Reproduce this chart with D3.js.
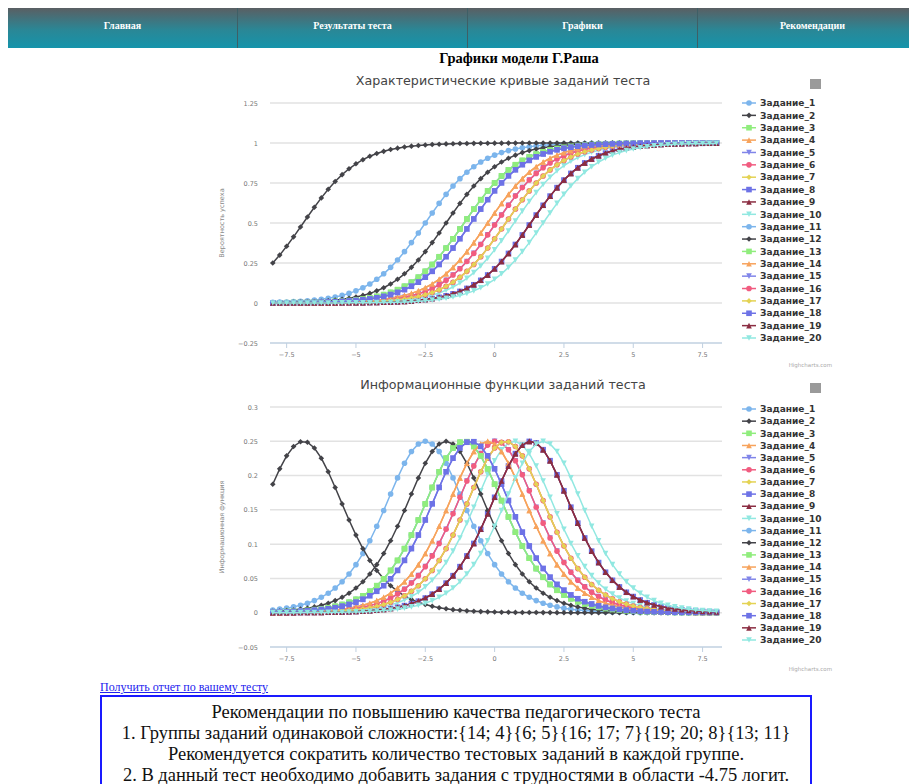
<!DOCTYPE html>
<html lang="ru">
<head>
<meta charset="UTF-8">
<title>Графики модели Г.Раша</title>
<script src="https://d3js.org/d3.v7.min.js"></script>
<style>
  body { margin: 0; background: #fff; width: 909px; height: 784px; overflow: hidden; position: relative; }
  #nav {
    position: absolute; left: 8px; top: 8px; width: 920px; height: 40px;
    background: linear-gradient(#5a5f63, #2a8796 55%, #1594ab);
    display: flex;
  }
  #nav div {
    width: 230px; border-right: 1px solid #3f5f66; box-sizing: border-box;
    color: #fff; font: bold 10px "Liberation Serif", serif; text-align: center; line-height: 36px;
  }
  #heading { position: absolute; left: 0; width: 1038px; top: 50px; text-align: center;
    font: bold 14.5px "Liberation Serif", serif; color: #000; }
  #charts { position: absolute; left: 0; top: 0; }
  #report { position: absolute; left: 100px; top: 680px; font: 12px "Liberation Serif", serif;
    color: #2222ee; text-decoration: underline; }
  #box { position: absolute; left: 100px; top: 695px; width: 708px; height: 100px;
    border: 2px solid #1a1aff; text-align: center;
    font: 18.5px "Liberation Serif", serif; line-height: 21px; color: #111; padding-top: 5px; }
</style>
</head>
<body>
<div id="nav">
  <div>Главная</div><div>Результаты теста</div><div>Графики</div><div>Рекомендации</div>
</div>
<div id="heading">Графики модели Г.Раша</div>
<svg id="charts" width="909" height="784"></svg>
<div id="report">Получить отчет по вашему тесту</div>
<div id="box">
  Рекомендации по повышению качества педагогического теста<br>
  1. Группы заданий одинаковой сложности:{14; 4}{6; 5}{16; 17; 7}{19; 20; 8}{13; 11}<br>
  Рекомендуется сократить количество тестовых заданий в каждой группе.<br>
  2. В данный тест необходимо добавить задания с трудностями в области -4.75 логит.
</div>
<script>
// item names and difficulties (logits)
const itemNames = d3.range(1, 21).map(i => "Задание_" + i);
const itemDifficulty = [-2.5, -6.9, -1.1, -0.25, 0.05, 0.05, 0.4, 1.3, 1.3, 0.7,
                        -1.1, -1.75, -1.1, -0.25, -0.85, 0.4, 0.4, -0.85, 1.3, 1.75];
// ability grid the curves were evaluated at
const thetaGrid = d3.range(-8, 8.001, 0.25);

const xTicks = [-7.5, -5, -2.5, 0, 2.5, 5, 7.5];
const iccTicks = [-0.25, 0, 0.25, 0.5, 0.75, 1, 1.25];
const infoTicks = [-0.05, 0, 0.05, 0.1, 0.15, 0.2, 0.25, 0.3];

const seriesColors = ["#7cb5ec", "#434348", "#90ed7d", "#f7a35c", "#8085e9",
                      "#f15c80", "#e4d354", "#6d72e6", "#8b2d42", "#91e8e1"];
const seriesSymbols = ["circle", "diamond", "square", "triangle", "triangle-down"];

// Rasch model
const prob = (t, b) => 1 / (1 + Math.exp(-(t - b)));
const info = (t, b) => { const p = prob(t, b); return p * (1 - p); };

function symbolPath(type, r) {
  switch (type) {
    case "circle": return d3.symbol(d3.symbolCircle, Math.PI * r * r)();
    case "diamond": return `M0,${-r}L${r},0L0,${r}L${-r},0Z`;
    case "square": return `M${-r},${-r}h${2 * r}v${2 * r}h${-2 * r}Z`;
    case "triangle": return `M0,${-r}L${r},${r}L${-r},${r}Z`;
    default: return `M${-r},${-r}L${r},${-r}L0,${r}Z`;
  }
}

const svg = d3.select("#charts");

function drawChart(cfg) {
  const g = svg.append("g");
  const x = d3.scaleLinear().domain([-8.1, 8.2]).range([270, 722]);
  const y = d3.scaleLinear().domain(cfg.yDomain).range([cfg.bottom, cfg.top]);

  g.append("text").attr("x", 503).attr("y", cfg.top - 18).attr("text-anchor", "middle")
    .attr("font-family", "DejaVu Sans, sans-serif").attr("font-size", 12.7).attr("fill", "#444")
    .text(cfg.title);

  // export button
  g.append("rect").attr("x", 810).attr("y", cfg.top - 24).attr("width", 11).attr("height", 10)
    .attr("fill", "#9a9a9a");

  // gridlines + y labels
  g.selectAll(".grid").data(cfg.yTicks).enter().append("line")
    .attr("x1", 270).attr("x2", 722)
    .attr("y1", d => y(d)).attr("y2", d => y(d))
    .attr("stroke", d => d === cfg.yDomain[0] ? "#c0d0e0" : "#e2e2e2").attr("stroke-width", 1.5);

  g.selectAll(".ylab").data(cfg.yTicks).enter().append("text")
    .attr("x", 258).attr("y", d => y(d) + 2.5).attr("text-anchor", "end")
    .attr("font-family", "DejaVu Sans, sans-serif").attr("font-size", 6.5).attr("fill", "#777")
    .text(d => d3.format("")(d).replace("-", "−"));

  // y title
  const ym = (cfg.top + cfg.bottom) / 2;
  g.append("text").attr("transform", `translate(224,${ym}) rotate(-90)`)
    .attr("text-anchor", "middle").attr("font-family", "DejaVu Sans, sans-serif")
    .attr("font-size", 6.5).attr("fill", "#888").text(cfg.yTitle);

  // x axis
  g.selectAll(".xt").data(xTicks).enter().append("line")
    .attr("x1", d => x(d)).attr("x2", d => x(d))
    .attr("y1", cfg.bottom).attr("y2", cfg.bottom + 5)
    .attr("stroke", "#c0d0e0");
  g.selectAll(".xlab").data(xTicks).enter().append("text")
    .attr("x", d => x(d)).attr("y", cfg.bottom + 14).attr("text-anchor", "middle")
    .attr("font-family", "DejaVu Sans, sans-serif").attr("font-size", 6.5).attr("fill", "#777")
    .text(d => d3.format("")(d).replace("-", "−"));

  // series
  const line = d3.line().x(d => x(d[0])).y(d => y(d[1]));
  itemDifficulty.forEach((b, i) => {
    const color = seriesColors[i % 10];
    const sym = seriesSymbols[i % 5];
    const pts = thetaGrid.map(t => [t, cfg.value(t, b)]);
    const s = g.append("g");
    s.append("path").attr("d", line(pts)).attr("fill", "none")
      .attr("stroke", color).attr("stroke-width", 1.5);
    s.selectAll("path.m").data(pts).enter().append("path")
      .attr("class", "m")
      .attr("transform", d => `translate(${x(d[0])},${y(d[1])})`)
      .attr("d", symbolPath(sym, sym === "square" ? 2.8 : 2.8))
      .attr("fill", color);
  });

  // legend
  const lg = g.append("g");
  const step = (cfg.legendBottom - cfg.legendTop) / (itemNames.length - 1);
  itemNames.forEach((name, i) => {
    const ly = cfg.legendTop + i * step;
    const color = seriesColors[i % 10];
    const sym = seriesSymbols[i % 5];
    lg.append("line").attr("x1", 742).attr("x2", 756).attr("y1", ly).attr("y2", ly)
      .attr("stroke", color).attr("stroke-width", 1.5);
    lg.append("path").attr("transform", `translate(749,${ly})`)
      .attr("d", symbolPath(sym, 2.8)).attr("fill", color);
    lg.append("text").attr("x", 760).attr("y", ly + 3.2)
      .attr("font-family", "DejaVu Sans, sans-serif").attr("font-weight", "bold")
      .attr("font-size", 9).attr("fill", "#333").text(name);
  });

  g.append("text").attr("x", 832).attr("y", cfg.bottom + 24).attr("text-anchor", "end")
    .attr("font-family", "DejaVu Sans, sans-serif").attr("font-size", 5.5).attr("fill", "#aaa")
    .text("Highcharts.com");
}

drawChart({
  title: "Характеристические кривые заданий теста",
  yTitle: "Вероятность успеха",
  yDomain: [-0.25, 1.25], yTicks: iccTicks,
  top: 103, bottom: 343,
  legendTop: 103, legendBottom: 338,
  value: prob
});

drawChart({
  title: "Информационные функции заданий теста",
  yTitle: "Информационная функция",
  yDomain: [-0.05, 0.3], yTicks: infoTicks,
  top: 407, bottom: 647,
  legendTop: 409, legendBottom: 640,
  value: info
});
</script>
</body>
</html>
